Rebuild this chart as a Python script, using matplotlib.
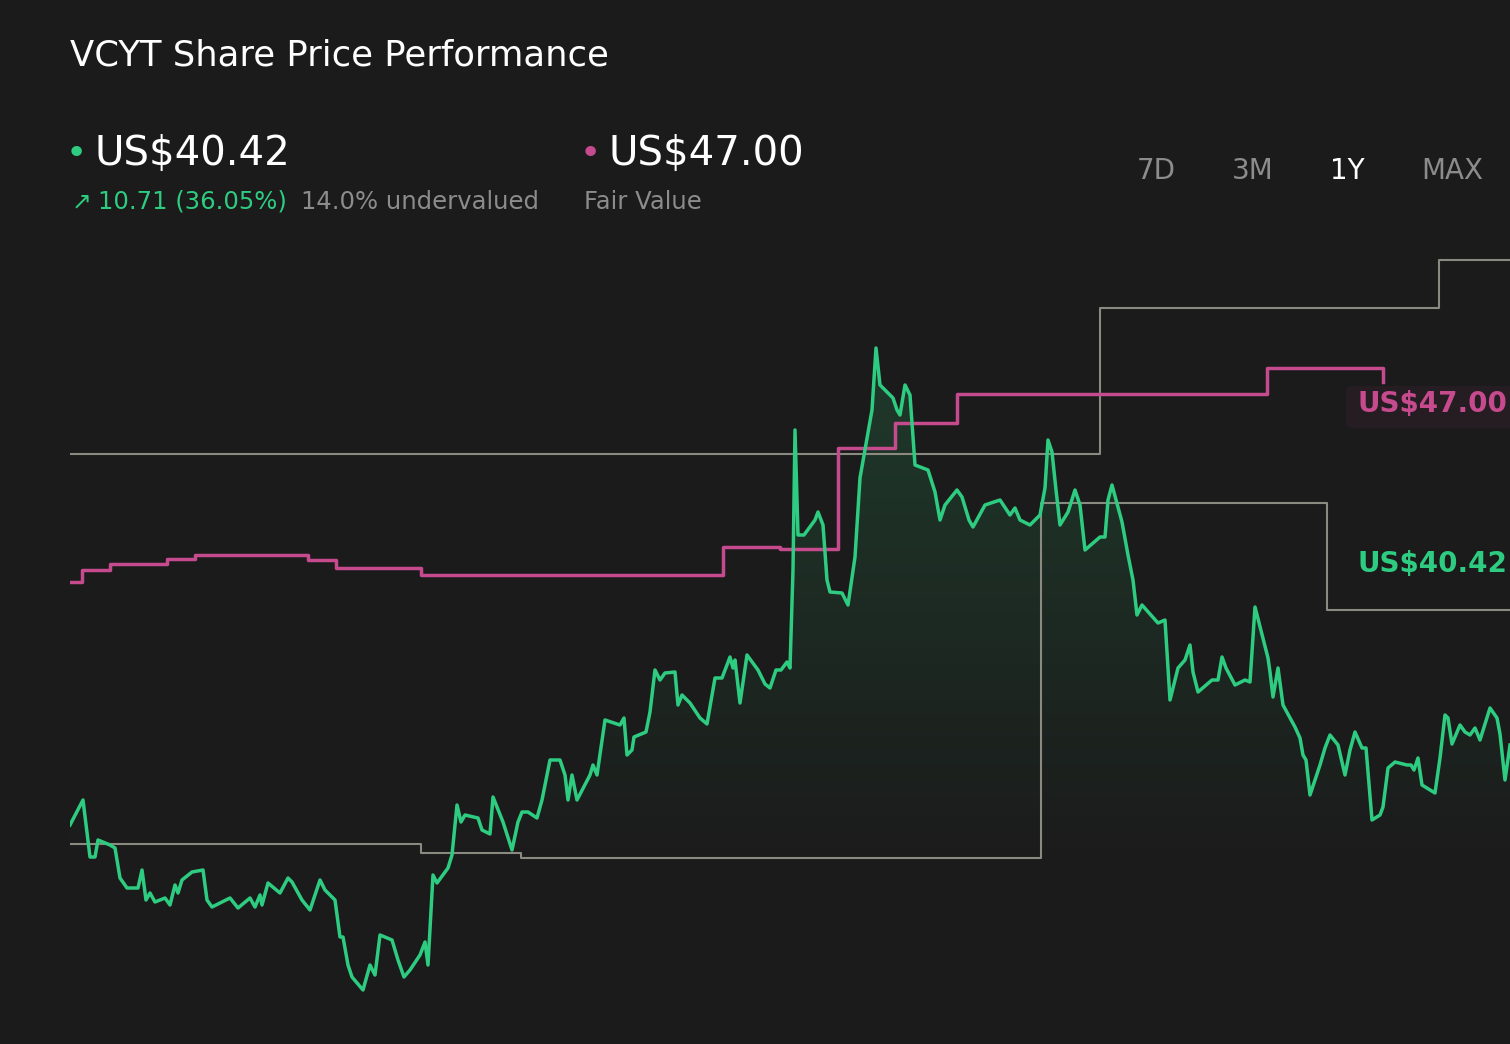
import matplotlib
matplotlib.use("Agg")
import matplotlib.pyplot as plt
import numpy as np
from matplotlib.path import Path

# day positions (0..1440 span ~ one year) and prices
days = [0,13,20,25,28,40,45,50,57,68,72,76,80,85,95,100,105,108,112,122,133,137,142,160,168,180,185,190,192,198,210,218,222,232,240,250,255,265,270,273,278,282,293,300,305,310,322,328,334,340,350,355,358,363,367,378,382,387,391,395,408,412,420,423,433,442,448,452,458,467,472,480,490,495,498,502,507,520,523,527,535,550,554,557,562,564,576,580,585,590,595,605,608,612,620,630,637,645,652,660,663,665,670,677,688,695,700,706,711,717,720,723,725,728,734,745,748,753,757,760,772,778,785,790,802,806,810,815,823,827,830,835,840,845,858,865,870,875,887,892,899,903,915,930,940,945,950,960,970,975,978,982,986,990,998,1005,1010,1015,1030,1035,1038,1042,1052,1058,1063,1067,1072,1088,1095,1100,1108,1115,1120,1123,1128,1142,1148,1152,1156,1165,1175,1180,1185,1198,1200,1203,1208,1213,1225,1230,1233,1236,1240,1250,1255,1260,1268,1275,1280,1285,1292,1296,1302,1310,1313,1318,1325,1337,1341,1344,1348,1352,1365,1370,1375,1378,1382,1390,1395,1400,1405,1410,1420,1427,1430,1435,1440]
prices = [38.82,39.32,38.18,38.18,38.52,38.42,38.36,37.76,37.56,37.56,37.92,37.32,37.46,37.28,37.36,37.22,37.62,37.46,37.72,37.88,37.92,37.32,37.18,37.36,37.16,37.36,37.18,37.42,37.22,37.66,37.46,37.76,37.68,37.32,37.12,37.72,37.52,37.32,36.58,36.58,36.02,35.78,35.52,36.02,35.82,36.62,36.52,36.12,35.78,35.92,36.22,36.48,36.02,37.82,37.66,37.96,38.22,39.22,38.88,39.02,38.96,38.72,38.64,39.38,38.88,38.32,38.88,39.08,39.08,38.96,39.32,40.12,40.12,39.82,39.32,39.82,39.32,39.82,40.02,39.82,40.92,40.82,40.96,40.22,40.32,40.58,40.68,41.08,41.92,41.72,41.86,41.88,41.22,41.42,41.26,40.96,40.84,41.76,41.76,42.18,41.96,42.12,41.26,42.22,41.92,41.64,41.56,41.92,41.92,42.08,41.96,43.92,46.72,44.62,44.62,44.92,45.08,44.82,43.72,43.48,43.46,43.22,44.18,45.76,47.12,48.36,47.62,47.52,47.36,47.12,47.02,47.62,47.42,46.02,45.92,45.48,44.92,45.22,45.52,45.38,44.92,44.78,45.22,45.32,45.02,45.16,44.92,44.82,45.02,45.56,46.52,46.28,45.52,44.82,45.08,45.52,45.22,44.32,44.58,44.58,45.32,45.62,44.88,44.22,43.72,43.02,43.22,42.86,42.92,41.32,41.96,42.12,42.42,41.88,41.48,41.72,41.72,42.18,41.96,41.62,41.72,41.68,43.18,42.16,41.88,41.38,41.96,41.22,40.78,40.56,40.22,40.12,39.42,40.02,40.36,40.62,40.42,39.82,40.32,40.68,40.36,40.36,38.92,39.02,39.18,39.96,40.08,40.02,40.02,39.92,40.16,39.62,39.46,40.16,41.02,40.96,40.44,40.82,40.68,40.62,40.76,40.52,41.16,40.96,40.64,39.72,40.42]

fv_days = [0,12,40,97,125,238,266,351,653,710,768,825,887,1197,1313]
fv_vals = [43.68,43.92,44.04,44.14,44.22,44.12,43.96,43.82,44.38,44.34,46.36,46.86,47.44,47.96,47.68]

up_days = [0,1030,1369,1440]
up_vals = [46.24,49.16,50.12,50.12]
lo_days = [0,351,451,971,1257,1440]
lo_vals = [38.44,38.26,38.16,45.26,43.12,43.12]

BG = "#1b1b1b"; GREEN = "#2ecc80"; PINK = "#c64a8e"; GRAY = "#8a8a80"
fig = plt.figure(figsize=(15.1, 10.44), dpi=100, facecolor=BG)
ax = fig.add_axes([70/1510, 44/1044, 1440/1510, 760/1044])
ax.set_facecolor(BG)
ax.axis("off")

base = 38.0
p = np.array(prices)
poly = ax.fill_between(days, prices, base, where=p >= base, interpolate=True, color="none", lw=0)
grad = np.linspace(0, 1, 256).reshape(-1, 1)
cmap = matplotlib.colors.LinearSegmentedColormap.from_list("g", ["#1b1b1b", "#1f3a2b"])
im = ax.imshow(grad, extent=[0, 1440, base, 48.4], origin="lower", aspect="auto", cmap=cmap, zorder=1)
paths = poly.get_paths()
im.set_clip_path(Path.make_compound_path(*paths) if len(paths) > 1 else paths[0], transform=ax.transData)

ax.step(up_days, up_vals, where="post", color=GRAY, lw=1.5, zorder=2)
ax.step(lo_days, lo_vals, where="post", color=GRAY, lw=1.5, zorder=2)
ax.step(fv_days, fv_vals, where="post", color=PINK, lw=2.5, zorder=3)
ax.plot(days, prices, color=GREEN, lw=2.5, zorder=4)
ax.set_xlim(0, 1440)
ax.set_ylim(35.32, 50.52)

T = lambda x, y, s, **kw: fig.text(x/1510, 1-y/1044, s, **kw)
fig.patches.append(matplotlib.patches.FancyBboxPatch((1346/1510, 1-428/1044), 170/1510, 42/1044,
                   boxstyle="round,pad=0,rounding_size=0.005", transform=fig.transFigure, fc="#261d22", ec="none"))
T(1357, 404, "US$47.00", color=PINK, fontsize=20, fontweight="bold", va="center")
T(1357, 564, "US$40.42", color=GREEN, fontsize=20, fontweight="bold", va="center")

T(70, 55, "VCYT Share Price Performance", color="white", fontsize=25.5, va="center")
T(66, 154, "•", color=GREEN, fontsize=26, va="center")
T(94, 154, "US$40.42", color="white", fontsize=29, va="center")
T(580, 154, "•", color=PINK, fontsize=26, va="center")
T(608, 154, "US$47.00", color="white", fontsize=29, va="center")
T(72, 202, "↗", color=GREEN, fontsize=17, va="center")
T(98, 202, "10.71 (36.05%)", color=GREEN, fontsize=17.5, va="center")
T(301, 202, "14.0% undervalued", color="#8c8c8c", fontsize=17.5, va="center")
T(584, 202, "Fair Value", color="#8c8c8c", fontsize=17.5, va="center")
for x, s, c in [(1156, "7D", "#8c8c8c"), (1253, "3M", "#8c8c8c"), (1347, "1Y", "white"), (1452, "MAX", "#8c8c8c")]:
    T(x, 171, s, color=c, fontsize=20, va="center", ha="center")

fig.savefig("out.png", dpi=100, facecolor=BG)
